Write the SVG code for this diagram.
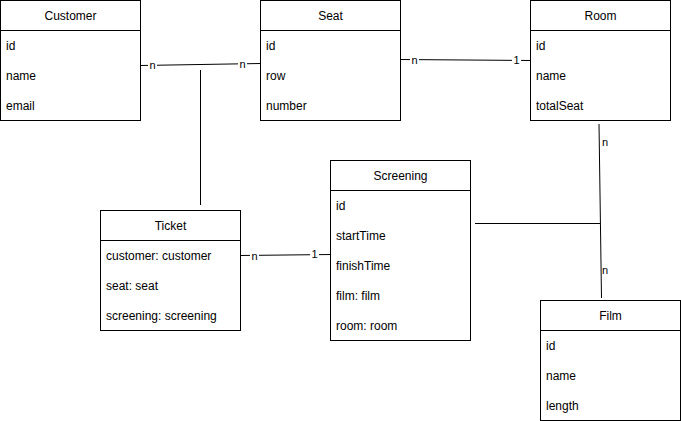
<svg xmlns="http://www.w3.org/2000/svg" width="681" height="421" viewBox="0 0 681 421">
<style>
.box{fill:#fff;stroke:#000;stroke-width:1}
.t{font-family:"Liberation Sans",Arial,sans-serif;font-size:12px;fill:#000}
.h{text-anchor:middle}
.c{stroke:#000;stroke-width:1;fill:none}
.lbl{font-family:"Liberation Sans",Arial,sans-serif;font-size:11px;fill:#000;text-anchor:middle}
.lb{fill:#fff}
</style>
<rect width="681" height="421" fill="#fff"/>
<g id="connectors">
<line class="c" x1="140.5" y1="65.5" x2="260.5" y2="63.5"/>
<line class="c" x1="200.5" y1="70" x2="200.5" y2="205"/>
<line class="c" x1="400.5" y1="59.5" x2="530.5" y2="60.5"/>
<line class="c" x1="599" y1="124" x2="601.5" y2="298"/>
<line class="c" x1="475" y1="223.5" x2="600" y2="223.5"/>
<line class="c" x1="240.5" y1="255.5" x2="330.5" y2="254.5"/>
<rect class="lb" x="148" y="59" width="9" height="12"/>
<text class="lbl" x="152.5" y="68.5">n</text>
<rect class="lb" x="238" y="58" width="9" height="12"/>
<text class="lbl" x="242.5" y="67.5">n</text>
<rect class="lb" x="410" y="54" width="9" height="12"/>
<text class="lbl" x="414.5" y="63.5">n</text>
<rect class="lb" x="512" y="54" width="9" height="12"/>
<text class="lbl" x="516.5" y="64">1</text>
<text class="lbl" x="605" y="145.5">n</text>
<text class="lbl" x="605" y="274">n</text>
<rect class="lb" x="250" y="249" width="9" height="12"/>
<text class="lbl" x="254.5" y="259.5">n</text>
<rect class="lb" x="310" y="248" width="9" height="12"/>
<text class="lbl" x="314.5" y="258">1</text>
</g>
<g id="customer">
<rect class="box" x="0.5" y="0.5" width="140" height="120"/>
<line class="c" x1="0.5" y1="30.5" x2="140.5" y2="30.5"/>
<text class="t h" x="70.5" y="20">Customer</text>
<text class="t" x="6" y="50">id</text>
<text class="t" x="6" y="80">name</text>
<text class="t" x="6" y="110">email</text>
</g>
<g id="seat">
<rect class="box" x="260.5" y="0.5" width="140" height="120"/>
<line class="c" x1="260.5" y1="30.5" x2="400.5" y2="30.5"/>
<text class="t h" x="330.5" y="20">Seat</text>
<text class="t" x="266" y="50">id</text>
<text class="t" x="266" y="80">row</text>
<text class="t" x="266" y="110">number</text>
</g>
<g id="room">
<rect class="box" x="530.5" y="0.5" width="140" height="120"/>
<line class="c" x1="530.5" y1="30.5" x2="670.5" y2="30.5"/>
<text class="t h" x="600.5" y="20">Room</text>
<text class="t" x="536" y="50">id</text>
<text class="t" x="536" y="80">name</text>
<text class="t" x="536" y="110">totalSeat</text>
</g>
<g id="screening">
<rect class="box" x="330.5" y="160.5" width="140" height="180"/>
<line class="c" x1="330.5" y1="190.5" x2="470.5" y2="190.5"/>
<text class="t h" x="400.5" y="180">Screening</text>
<text class="t" x="336" y="210">id</text>
<text class="t" x="336" y="240">startTime</text>
<text class="t" x="336" y="270">finishTime</text>
<text class="t" x="336" y="300">film: film</text>
<text class="t" x="336" y="330">room: room</text>
</g>
<g id="ticket">
<rect class="box" x="100.5" y="210.5" width="140" height="120"/>
<line class="c" x1="100.5" y1="240.5" x2="240.5" y2="240.5"/>
<text class="t h" x="170.5" y="230">Ticket</text>
<text class="t" x="106" y="260">customer: customer</text>
<text class="t" x="106" y="290">seat: seat</text>
<text class="t" x="106" y="320">screening: screening</text>
</g>
<g id="film">
<rect class="box" x="540.5" y="300.5" width="140" height="120"/>
<line class="c" x1="540.5" y1="330.5" x2="680.5" y2="330.5"/>
<text class="t h" x="610.5" y="320">Film</text>
<text class="t" x="546" y="350">id</text>
<text class="t" x="546" y="380">name</text>
<text class="t" x="546" y="410">length</text>
</g>
</svg>
